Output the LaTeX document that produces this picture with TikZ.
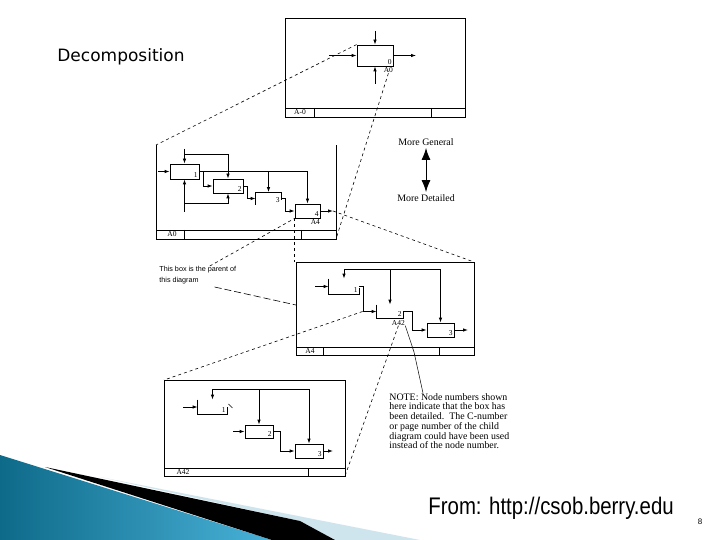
\documentclass[tikz,border=0pt]{standalone}
\usepackage{fontspec}
\usepackage{graphicx}
\setmainfont{Liberation Serif}
\newfontfamily\slidefont{DejaVu Sans}
\newfontfamily\footfont{Liberation Sans}
\usetikzlibrary{arrows.meta}
\definecolor{swdark}{HTML}{0E6A89}
\definecolor{swmid}{HTML}{49B2D8}
\definecolor{swpale}{HTML}{CFE5EE}

\begin{document}
\begin{tikzpicture}[x=1pt,y=-1pt,>=Latex,line width=.8pt,
  frm/.style={line width=.9pt},
  arr/.style={-{Latex[length=5pt,width=3.5pt]}},
  lead/.style={line width=.6pt,dash pattern=on 3pt off 3pt},
  longlead/.style={line width=.6pt,dash pattern=on 7pt off 3pt},
  blk/.style args={#1x#2}{draw,minimum width=#1pt,minimum height=#2pt,inner sep=0},
  ghost/.style args={#1x#2}{minimum width=#1pt,minimum height=#2pt,inner sep=0},
  num/.style={anchor=south east,inner sep=1.5pt,font=\fontsize{7.5}{7.5}\selectfont},
  ident/.style={inner sep=0,font=\fontsize{7.5}{7.5}\selectfont},
  remark/.style={inner sep=0,align=left,font=\fontsize{9.9}{9.7}\selectfont}]
\useasboundingbox (0,0) rectangle (720,540);
\fill[white] (0,0) rectangle (720,540);
% swoosh
\shade[left color=swdark,right color=swmid] (0,455) -- (272,540) -- (0,540) -- cycle;
\fill[swpale] (100,477) -- (420,540) -- (335,540) -- (300,521) -- cycle;
\fill[black] (45,467) -- (300,521) -- (335,540) -- (272,540) -- cycle;
\node[anchor=base west,inner sep=0,font=\slidefont\fontsize{17}{17}\selectfont] (ttl) at (57,62) {Decomposition};
\node[anchor=base west,inner sep=0,font=\footfont\fontsize{24}{24}\selectfont] (src) at (428,514) {\scalebox{0.85}[1]{From: http://csob.berry.edu}};
\node[font=\footfont\fontsize{8}{8}\selectfont] (pg) at (700,522) {8};

% A-0
\draw[frm] (285,18) rectangle (465,117); \draw[frm] (285,108)--(465,108) (314,108)--(314,117) (431,108)--(431,117);
\node[ident] (f1id) at (300,112.5) {A-0};
\node[blk=36x21] (a0) at (375,55.5) {}; \node[num] (a0n) at (a0.south east) {0};
\node[ident,anchor=north] (a0id) at ([xshift=-5pt,yshift=-1pt]a0.south east) {A0};
\coordinate (a0c) at (375,31); \coordinate (a0i) at (329,55.5); \coordinate (a0o) at (416,55.5); \coordinate (a0m) at (375,84);
\draw[arr] (a0c) -- (a0.north); \draw[arr] (a0i) -- (a0.west); \draw[arr] (a0.east) -- (a0o); \draw[arr] (a0m) -- (a0.south);

% A0
\coordinate (f2nw) at (156,145); \coordinate (f2se) at (336,239);
\draw[frm] (f2nw) |- (f2se) -- (336,145); \draw[frm] (156,230)--(336,230) (184,230)--(184,239) (301,230)--(301,239);
\node[ident] (f2id) at (172,234.5) {A0};
\node[blk=29x15] (f2b1) at (184.5,171.5) {}; \node[num] (f2n1) at (f2b1.south east) {1};
\node[blk=30x14] (f2b2) at (228,186) {}; \node[num] (f2n2) at (f2b2.south east) {2};
\node[ghost=25x12] (f2b3) at (268.5,198.5) {}; \node[num] (f2n3) at (f2b3.south east) {3};
\draw (f2b3.south west) |- (f2b3.north east) -- ++(0,8);
\node[blk=25x14] (f2b4) at (307.5,211) {}; \node[num] (f2n4) at (f2b4.south east) {4};
\node[ident,anchor=north] (f2b4id) at ([xshift=-5pt,yshift=-1pt]f2b4.south east) {A4};
\coordinate (f2i) at (158,171.5); \coordinate (f2c) at (184.5,149); \coordinate (f2c2) at (184.5,154);
\coordinate (f2j) at (203,171.5); \coordinate (f2out) at (333,211);
\coordinate (f2m) at (184.5,212); \coordinate (f2m2) at (184.5,203);
\draw[arr] (f2i) -- (f2b1.west); \draw[arr] (f2c) -- (f2b1.north); \draw[arr] (f2c2) -| (f2b2.north);
\draw[arr] (f2b1.east) -| (f2b4.north); \draw[arr] (f2b1.east -| f2b3.north) -- (f2b3.north);
\draw[arr] (f2j) |- (f2b2.west);
\draw[arr] (f2b2.east) -- ++(4,0) |- (f2b3.west); \draw[arr] (f2b3.east) -- ++(4,0) |- (f2b4.west);
\draw[arr] (f2b4.east) -- (f2out);
\draw[arr] (f2m) -- (f2b1.south); \draw[arr] (f2m2) -| (f2b2.south);

% A4
\coordinate (f3nw) at (296,262); \coordinate (f3ne) at (474,262); \coordinate (f3w) at (296,305);
\draw[frm] (f3nw) rectangle (474,355); \draw[frm] (296,347)--(474,347) (323,347)--(323,355) (439,347)--(439,355);
\node[ident] (f3id) at (310,351) {A4};
\node[ghost=30x15] (f3b1) at (344,286.5) {}; \node[num] (f3n1) at (f3b1.south east) {1};
\draw (f3b1.north west) |- (f3b1.south east) -- ++(0,-6);
\node[ghost=26x13] (f3b2) at (390,311.5) {}; \node[num] (f3n2) at (f3b2.south east) {2};
\draw (f3b2.north west) |- (f3b2.south east) -- ++(0,-7);
\node[ident,anchor=north] (f3b2id) at ([xshift=-5pt,yshift=-1.5pt]f3b2.south east) {A42};
\node[blk=27x14] (f3b3) at (440.5,330) {}; \node[num] (f3n3) at (f3b3.south east) {3};
\coordinate (f3i) at (315,286.5); \coordinate (f3o) at (468,330); \coordinate (f3c) at (344,269);
\draw[arr] (f3i) -- (f3b1.west);
\draw[arr] (f3b1.east) -- ++(4,0) |- (f3b2.west); \draw[arr] (f3b2.east) -- ++(9,0) |- (f3b3.west);
\draw[arr] (f3b3.east) -- (f3o);
\draw[arr] (f3c) -- (f3b1.north); \draw[arr] (f3c) -| (f3b3.north); \draw[arr] (f3c -| f3b2.north) -- (f3b2.north);

% A42
\coordinate (f4nw) at (164,380); \coordinate (f4se) at (345,476);
\draw[frm] (f4nw) rectangle (f4se); \draw[frm] (164,468)--(345,468) (308,468)--(308,476);
\node[ident] (f4id) at (183,472) {A42};
\node[ghost=29x14] (f4b1) at (212.5,407) {}; \node[num] (f4n1) at (f4b1.south east) {1};
\draw (f4b1.north west) |- (f4b1.south east) -- ++(0,-7); \draw[line width=.5pt] ([xshift=1pt,yshift=3pt]f4b1.east) -- ++(4,4);
\node[blk=28x13] (f4b2) at (259,431.5) {}; \node[num] (f4n2) at (f4b2.south east) {2};
\node[blk=28x14] (f4b3) at (309,451) {}; \node[num] (f4n3) at (f4b3.south east) {3};
\coordinate (f4i) at (183,407); \coordinate (f4i2) at (233,431.5); \coordinate (f4o) at (333,451); \coordinate (f4c) at (212.5,389);
\draw[arr] (f4i) -- (f4b1.west); \draw[arr] (f4i2) -- (f4b2.west);
\draw[arr] (f4b2.east) -- ++(7,0) |- (f4b3.west); \draw[arr] (f4b3.east) -- (f4o);
\draw[arr] (f4c) -- (f4b1.north); \draw[arr] (f4c) -| (f4b3.north); \draw[arr] (f4c -| f4b2.north) -- (f4b2.north);

% notes
\node[remark] (mg) at (426,142) {More General};
\node[remark] (md) at (426,198) {More Detailed};
\draw[{Latex[length=12pt,width=9pt]}-{Latex[length=12pt,width=9pt]},line width=1pt,shorten <=2pt,shorten >=2pt] (mg.south) -- (md.north);
\node[remark,anchor=north west,font=\footfont\fontsize{7.2}{10.5}\selectfont] (ptext) at (159,266) {This box is the parent of\\ this diagram};
\node[remark,anchor=north west] (note) at (389,393) {NOTE: Node numbers shown\\here indicate that the box has\\been detailed.\ \ The C-number\\or page number of the child\\diagram could have been used\\instead of the node number.};

% leaders
\draw[lead] (a0.north west) -- (f2nw); \draw[lead] (a0id.south) -- (f2se);
\draw[lead] (f2out) -- (f3ne); \draw[lead] (f2b4.south west) -- (f2b4.south west |- f3nw);
\draw[lead] ([xshift=12pt]ptext.north) -- (f2b4.south west);
\draw[longlead] ([xshift=-22pt,yshift=-3pt]ptext.south east) -- (f3w);
\draw[lead] ([xshift=-14pt]f3b2.west) -- (f4nw); \draw[lead] (f3b2id.south) -- (f4se);
\draw[line width=.5pt] (f3b2id.south east) -- (414,352) -- ([xshift=34pt]note.north west);
\end{tikzpicture}
\end{document}
